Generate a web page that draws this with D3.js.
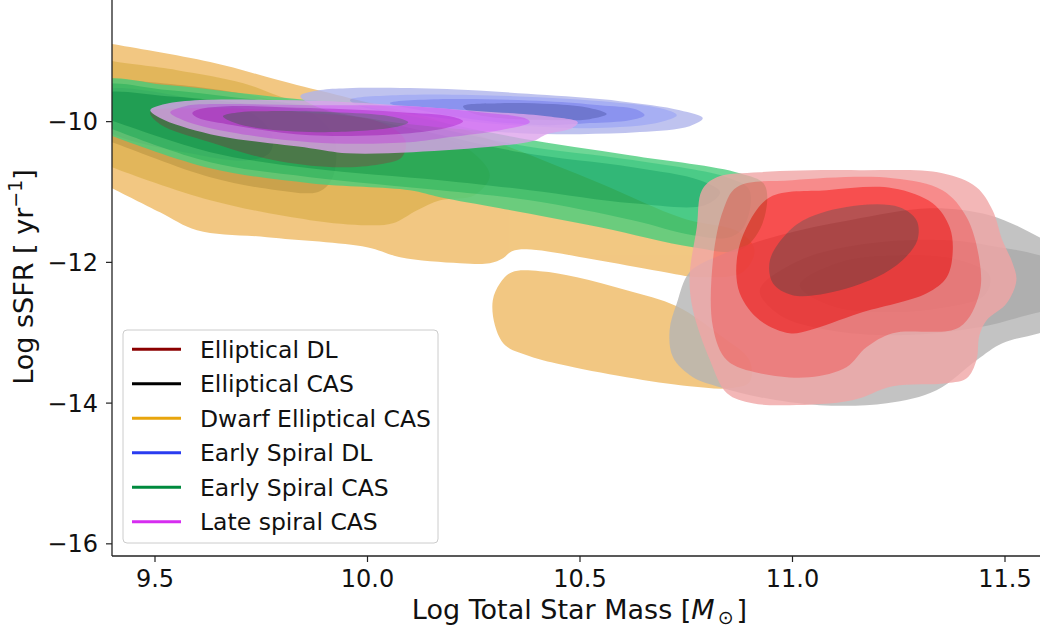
<!DOCTYPE html>
<html><head><meta charset="utf-8">
<script src="https://cdn.jsdelivr.net/npm/d3@7"></script>
<style>
body{margin:0;background:#fff}
svg{display:block}
text{font-family:"DejaVu Sans",sans-serif;fill:#111}
</style>
</head><body>
<svg id="chart" width="1040" height="627"></svg>
<script>
// legend categories and their line colours
const categories = ["Elliptical DL","Elliptical CAS","Dwarf Elliptical CAS","Early Spiral DL","Early Spiral CAS","Late spiral CAS"];
const legendColors = ["#8b0000","#000000","#e8a50c","#2a3cf0","#008a3e","#d62df0"];
const xTicks = [9.5, 10.0, 10.5, 11.0, 11.5];
const yTicks = [-10, -12, -14, -16];

// KDE contour outlines per sample: [log M*, log sSFR], outermost level first.
// each level is a list of closed rings
const dwarfEllipticalCAS = [
  [
    [[9.372,-8.877],[9.400,-8.905],[9.631,-9.161],[9.835,-9.488],[9.960,-9.673],[10.148,-9.957],[10.336,-10.370],[10.548,-10.881],[10.743,-11.379],[10.877,-11.578],[10.912,-11.834],[10.884,-12.146],[10.783,-12.217],[10.689,-12.132],[10.531,-11.962],[10.376,-11.820],[10.341,-11.848],[10.320,-11.947],[10.289,-12.018],[10.219,-12.018],[10.078,-11.933],[10.000,-11.791],[9.765,-11.649],[9.600,-11.549],[9.513,-11.294],[9.400,-10.952],[9.372,-10.867]],
    [[10.407,-12.132],[10.341,-12.146],[10.313,-12.303],[10.296,-12.544],[10.301,-12.900],[10.325,-13.184],[10.383,-13.340],[10.454,-13.454],[10.611,-13.639],[10.759,-13.767],[10.853,-13.795],[10.900,-13.710],[10.900,-13.397],[10.831,-13.042],[10.729,-12.630],[10.611,-12.402],[10.494,-12.217]]
  ],
  [[[9.372,-9.104],[9.400,-9.147],[9.553,-9.275],[9.709,-9.460],[9.819,-9.701],[9.960,-9.915],[10.125,-10.128],[10.242,-10.412],[10.289,-10.768],[10.253,-11.052],[10.172,-11.123],[10.118,-11.265],[10.061,-11.450],[10.000,-11.478],[9.866,-11.407],[9.631,-11.123],[9.400,-10.654],[9.372,-10.583]]],
  [[[9.372,-9.360],[9.400,-9.389],[9.607,-9.517],[9.748,-9.659],[9.866,-9.872],[9.920,-10.199],[9.927,-10.597],[9.913,-10.867],[9.883,-11.009],[9.788,-10.981],[9.631,-10.796],[9.400,-10.299],[9.372,-10.242]]],
  [[[9.372,-9.588],[9.607,-9.701],[9.725,-9.872],[9.777,-10.199],[9.772,-10.441],[9.725,-10.554],[9.607,-10.483],[9.372,-10.057]]]
];
const dwarfFills = ["#efba63","#dca533","#be8c20","#96641a"];

const earlySpiralCAS = [
  [[[9.372,-9.446],[9.530,-9.488],[9.685,-9.588],[9.835,-9.687],[9.960,-9.758],[10.125,-9.957],[10.360,-10.242],[10.618,-10.483],[10.877,-10.739],[10.936,-10.910],[10.929,-11.478],[10.877,-11.834],[10.767,-11.791],[10.548,-11.507],[10.313,-11.237],[10.172,-11.080],[10.101,-10.981],[9.866,-10.881],[9.631,-10.668],[9.395,-10.199],[9.372,-10.142]]],
  [[[9.372,-9.517],[9.530,-9.559],[9.685,-9.659],[9.835,-9.758],[9.960,-9.844],[10.125,-10.043],[10.360,-10.341],[10.625,-10.554],[10.853,-10.810],[10.900,-10.981],[10.889,-11.478],[10.853,-11.649],[10.767,-11.620],[10.625,-11.407],[10.383,-11.123],[10.172,-10.981],[9.866,-10.796],[9.631,-10.583],[9.395,-10.100],[9.372,-10.043]]],
  [[[9.372,-9.630],[9.530,-9.645],[9.685,-9.730],[9.835,-9.829],[9.960,-9.929],[10.125,-10.128],[10.360,-10.441],[10.625,-10.654],[10.783,-10.839],[10.831,-11.009],[10.795,-11.194],[10.625,-11.166],[10.383,-10.981],[10.172,-10.839],[9.866,-10.668],[9.631,-10.441],[9.395,-9.986],[9.372,-9.943]]],
  [[[9.490,-9.872],[9.607,-9.815],[9.843,-9.872],[10.031,-10.014],[10.090,-10.270],[10.082,-10.512],[10.031,-10.611],[9.920,-10.654],[9.779,-10.554],[9.631,-10.299],[9.513,-10.043]]]
];
const earlySpiralCASFills = ["#4ace7c","#1fbf6a","#00a656","#2c7049"];

const earlySpiralDL = [
  [[[9.843,-9.645],[9.890,-9.559],[9.953,-9.531],[10.188,-9.545],[10.423,-9.630],[10.595,-9.716],[10.736,-9.844],[10.790,-9.957],[10.759,-10.071],[10.642,-10.156],[10.501,-10.185],[10.360,-10.171],[10.195,-10.100],[10.031,-9.986],[9.890,-9.815]]],
  [[[9.960,-9.701],[10.078,-9.630],[10.343,-9.645],[10.579,-9.730],[10.689,-9.815],[10.729,-9.915],[10.689,-10.014],[10.595,-10.085],[10.501,-10.100],[10.313,-10.043],[10.125,-9.915],[9.984,-9.787]]],
  [[[10.054,-9.744],[10.188,-9.687],[10.423,-9.716],[10.548,-9.773],[10.630,-9.829],[10.653,-9.915],[10.618,-9.986],[10.524,-10.028],[10.423,-10.057],[10.266,-9.986],[10.125,-9.844]]],
  [[[10.226,-9.787],[10.313,-9.744],[10.437,-9.758],[10.524,-9.815],[10.564,-9.900],[10.524,-9.972],[10.437,-9.986],[10.313,-9.957],[10.242,-9.872]]]
];
const earlySpiralDLFills = ["#b0b5ec","#929cf1","#6f79ec","#4c56c4"];

const lateSpiralCAS = [
  [[[9.490,-9.844],[9.525,-9.758],[9.607,-9.701],[9.795,-9.701],[9.953,-9.730],[10.108,-9.787],[10.266,-9.858],[10.423,-9.929],[10.496,-10.014],[10.482,-10.100],[10.423,-10.185],[10.390,-10.284],[10.306,-10.355],[10.108,-10.441],[9.953,-10.455],[9.866,-10.384],[9.631,-10.185],[9.513,-9.957]]],
  [[[9.537,-9.872],[9.572,-9.787],[9.631,-9.758],[9.866,-9.773],[10.101,-9.787],[10.266,-9.872],[10.371,-9.957],[10.383,-10.014],[10.313,-10.128],[10.195,-10.227],[10.101,-10.299],[9.866,-10.299],[9.631,-10.100],[9.556,-9.957]]],
  [[[9.589,-9.886],[9.607,-9.829],[9.671,-9.787],[9.866,-9.815],[10.078,-9.872],[10.195,-9.929],[10.226,-10.000],[10.195,-10.085],[10.101,-10.171],[9.866,-10.199],[9.671,-10.043],[9.603,-9.957]]],
  [[[9.661,-9.929],[9.701,-9.872],[9.765,-9.858],[9.920,-9.872],[10.054,-9.929],[10.097,-10.014],[10.066,-10.085],[9.920,-10.156],[9.765,-10.114],[9.690,-10.028]]]
];
const lateSpiralCASFills = ["#dea4ec","#dc70f4","#c83ae0","#8c449e"];

const ellipticalCAS = [
  [[[10.759,-12.146],[10.831,-11.905],[10.971,-11.620],[11.135,-11.407],[11.324,-11.237],[11.465,-11.336],[11.582,-11.649],[11.676,-11.976],[11.676,-12.829],[11.582,-13.013],[11.495,-13.156],[11.434,-13.397],[11.340,-13.824],[11.223,-14.009],[11.065,-14.037],[10.924,-13.923],[10.831,-13.781],[10.767,-13.639],[10.720,-13.355],[10.712,-12.971],[10.729,-12.587]]],
  [[[10.924,-12.402],[11.018,-11.976],[11.182,-11.734],[11.371,-11.692],[11.488,-11.791],[11.582,-11.905],[11.676,-12.118],[11.676,-12.615],[11.582,-12.715],[11.441,-12.928],[11.253,-13.042],[11.088,-12.971],[10.971,-12.758]]],
  [[[11.018,-12.331],[11.112,-12.004],[11.253,-11.905],[11.394,-11.976],[11.465,-12.189],[11.453,-12.473],[11.347,-12.658],[11.206,-12.715],[11.088,-12.615]]]
];
const ellipticalCASFills = ["#b5b5b5","#9c9c9c","#8c8c8c"];

const ellipticalDL = [
  [[[10.823,-10.796],[10.924,-10.725],[11.158,-10.697],[11.354,-10.739],[11.434,-10.938],[11.472,-11.265],[11.495,-11.692],[11.519,-12.018],[11.528,-12.260],[11.505,-12.587],[11.458,-12.829],[11.441,-13.042],[11.434,-13.397],[11.411,-13.653],[11.364,-13.724],[11.237,-13.767],[11.142,-13.966],[10.994,-14.037],[10.907,-14.009],[10.847,-13.866],[10.807,-13.397],[10.767,-12.687],[10.759,-12.217],[10.776,-11.507],[10.788,-10.981]]],
  [[[10.870,-10.938],[11.001,-10.839],[11.237,-10.810],[11.354,-10.981],[11.411,-11.365],[11.441,-11.976],[11.441,-12.445],[11.394,-12.928],[11.237,-13.013],[11.175,-13.213],[11.128,-13.497],[11.041,-13.639],[10.924,-13.582],[10.847,-13.397],[10.814,-12.928],[10.814,-11.976],[10.838,-11.265]]],
  [[[10.948,-11.080],[11.082,-10.981],[11.237,-10.952],[11.331,-11.166],[11.371,-11.507],[11.378,-11.876],[11.364,-12.217],[11.317,-12.445],[11.158,-12.729],[11.041,-12.971],[10.994,-13.013],[10.924,-12.829],[10.877,-12.445],[10.870,-11.976],[10.893,-11.507]]],
  [[[10.948,-11.976],[10.988,-11.592],[11.041,-11.365],[11.158,-11.194],[11.253,-11.222],[11.293,-11.407],[11.295,-11.692],[11.260,-11.976],[11.199,-12.217],[11.082,-12.445],[11.001,-12.473],[10.955,-12.303]]]
];
const ellipticalDLFills = ["#f1a6a6","#f66f6f","#f62424","#a52828"];

const W = 1040, H = 627;
const plotLeft = 112, plotRight = 1047, plotTop = -2, plotBottom = 556;

const svg = d3.select("#chart");
const x = d3.scaleLinear().domain([9.4, 11.6]).range([plotLeft, plotRight]);
const y = d3.scaleLinear().domain([-16.18, -8.25]).range([plotBottom, plotTop]);

svg.append("defs").append("clipPath").attr("id", "plotClip")
  .append("rect").attr("x", plotLeft).attr("y", plotTop)
  .attr("width", plotRight - plotLeft).attr("height", plotBottom - plotTop);

const plot = svg.append("g").attr("clip-path", "url(#plotClip)");

const outline = d3.line()
  .x(d => x(d[0])).y(d => y(d[1]))
  .curve(d3.curveCatmullRomClosed.alpha(0.5));

function drawDensity(levels, fills) {
  const g = plot.append("g").attr("opacity", 0.8);
  levels.forEach((rings, i) => {
    rings.forEach(ring => {
      g.append("path").attr("d", outline(ring)).attr("fill", fills[i]);
    });
  });
}

drawDensity(dwarfEllipticalCAS, dwarfFills);
drawDensity(earlySpiralCAS, earlySpiralCASFills);
drawDensity(earlySpiralDL, earlySpiralDLFills);
drawDensity(lateSpiralCAS, lateSpiralCASFills);
drawDensity(ellipticalCAS, ellipticalCASFills);
drawDensity(ellipticalDL, ellipticalDLFills);

// axes
const axisColor = "#222";
const xAxis = d3.axisBottom(x).tickValues(xTicks).tickFormat(d3.format(".1f")).tickSize(6).tickPadding(6);
const gx = svg.append("g").attr("transform", `translate(0,${plotBottom})`).call(xAxis);
gx.select(".domain").attr("stroke", axisColor).attr("stroke-width", 1.3).attr("d", `M${plotLeft},0H${plotRight}`);
gx.selectAll(".tick line").attr("stroke", axisColor).attr("stroke-width", 1.2);
gx.selectAll(".tick text").attr("font-size", 24).attr("font-family", "DejaVu Sans").attr("fill", "#111")
  .attr("dy", null).attr("y", 31);

const yAxis = d3.axisLeft(y).tickValues(yTicks).tickFormat(d => "\u2212" + Math.abs(d)).tickSize(6).tickPadding(8);
const gy = svg.append("g").attr("transform", `translate(${plotLeft},0)`).call(yAxis);
gy.select(".domain").attr("stroke", axisColor).attr("stroke-width", 1.3).attr("d", `M0,${plotTop}V${plotBottom}`);
gy.selectAll(".tick line").attr("stroke", axisColor).attr("stroke-width", 1.2);
gy.selectAll(".tick text").attr("font-size", 24).attr("font-family", "DejaVu Sans").attr("fill", "#111")
  .attr("dy", "0.36em");

// axis titles
const xl = svg.append("text").attr("x", (plotLeft + plotRight) / 2).attr("y", 619)
  .attr("text-anchor", "middle").attr("font-size", 27);
xl.append("tspan").text("Log Total Star Mass [");
xl.append("tspan").attr("font-style", "italic").text("M");
xl.append("tspan").attr("font-size", 19).attr("dy", 5).attr("dx", 3).text("\u2299");
xl.append("tspan").attr("dy", -5).attr("dx", 3).text("]");

const yl = svg.append("text").attr("transform", "translate(33,277) rotate(-90)")
  .attr("text-anchor", "middle").attr("font-size", 27);
yl.append("tspan").text("Log sSFR [ yr");
yl.append("tspan").attr("font-size", 19).attr("dy", -11).text("\u22121");
yl.append("tspan").attr("dy", 11).text("]");

// legend
const lg = svg.append("g");
lg.append("rect").attr("x", 123).attr("y", 330).attr("width", 315).attr("height", 213)
  .attr("rx", 4).attr("fill", "#fff").attr("fill-opacity", 0.8)
  .attr("stroke", "#cccccc").attr("stroke-width", 1);
categories.forEach((c, i) => {
  const cy = 349.3 + i * 34.5;
  lg.append("line").attr("x1", 132).attr("x2", 181).attr("y1", cy).attr("y2", cy)
    .attr("stroke", legendColors[i]).attr("stroke-width", 3);
  lg.append("text").attr("x", 200).attr("y", cy).attr("dy", "0.36em")
    .attr("font-size", 23.5).text(c);
});
</script>
</body></html>
